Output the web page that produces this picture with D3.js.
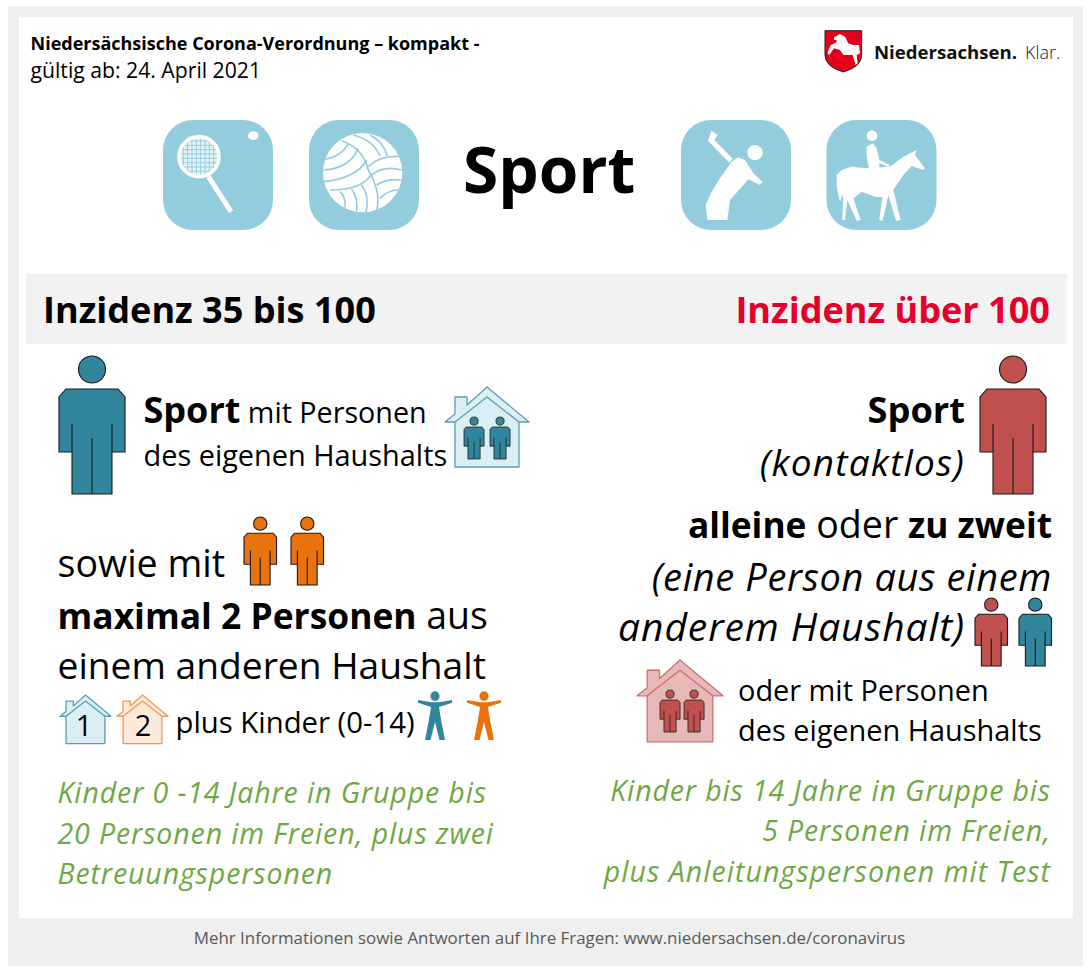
<!DOCTYPE html>
<html lang="de">
<head>
<meta charset="utf-8">
<script src="https://cdn.jsdelivr.net/npm/d3@7"></script>
<style>
  html, body { margin: 0; padding: 0; background: #fff; }
  svg { display: block; }
  text { font-family: "Open Sans", sans-serif; }
</style>
</head>
<body>
<div id="chart"></div>
<script>
// texts of the sheet, a run is [text, "b" | "i" | ""]
const headerLines = [[["Niedersächsische Corona-Verordnung – kompakt -", "b"]], [["gültig ab: 24. April 2021", ""]]];
const pageTitle = "Sport";
const incidenceLabels = ["Inzidenz 35 bis 100", "Inzidenz über 100"];
const leftHousehold = [[["Sport", "b"], [" mit Personen", ""]], [["des eigenen Haushalts", ""]]];
const leftContacts = [[["sowie mit", ""]], [["maximal 2 Personen", "b"], [" aus", ""]], [["einem anderen Haushalt", ""]]];
const leftKids = "plus Kinder (0-14)";
const leftGreen = ["Kinder 0 -14 Jahre in Gruppe bis", "20 Personen im Freien, plus zwei", "Betreuungspersonen"];
const rightSport = [[["Sport", "b"]], [["(kontaktlos)", "i"]]];
const rightContacts = [[["alleine", "b"], [" oder ", ""], ["zu zweit", "b"]], [["(eine Person aus einem", "i"]], [["anderem Haushalt)", "i"]]];
const rightHousehold = ["oder mit Personen", "des eigenen Haushalts"];
const rightGreen = ["Kinder bis 14 Jahre in Gruppe bis", "5 Personen im Freien,", "plus Anleitungspersonen mit Test"];
const footerText = "Mehr Informationen sowie Antworten auf Ihre Fragen: www.niedersachsen.de/coronavirus";
const houseNumbers = ["1", "2"];

const teal = "#31859c", red = "#c0504d", orange = "#e8730c", iconBlue = "#93cddd", green = "#6fa843";

const svg = d3.select("#chart").append("svg").attr("width", 1091).attr("height", 975);

svg.append("rect").attr("x", 8).attr("y", 6).attr("width", 1075).attr("height", 960).attr("fill", "#efefef");
svg.append("rect").attr("x", 19).attr("y", 17).attr("width", 1054).attr("height", 901).attr("fill", "#fff");
svg.append("rect").attr("x", 26).attr("y", 274).attr("width", 1041).attr("height", 70).attr("fill", "#f2f2f2");

// one line of mixed runs, sizes = {b: bold size, r: regular size, i: italic size}
function line(runs, x, y, sizes, anchor, fill, spacing) {
  const t = svg.append("text").attr("x", x).attr("y", y)
    .attr("text-anchor", anchor || "start").attr("fill", fill || "#000")
    .attr("letter-spacing", spacing || 0).style("white-space", "pre");
  runs.forEach(r => {
    const size = typeof sizes == "number" ? sizes : (sizes[r[1]] || sizes.r);
    t.append("tspan").text(r[0])
      .attr("font-weight", r[1] == "b" ? 700 : 400)
      .attr("font-style", r[1] == "i" ? "italic" : "normal")
      .attr("font-size", size);
  });
  return t;
}

// person figure, drawn in a 66 x 138 box
function person(x, y, h, color) {
  const s = h / 138;
  const g = svg.append("g").attr("transform", `translate(${x},${y}) scale(${s})`)
    .attr("stroke", "#1a1a1a").attr("stroke-width", 1.1 / Math.max(s, 0.45)).attr("fill", color);
  g.append("circle").attr("cx", 33).attr("cy", 13.5).attr("r", 13.5);
  g.append("path").attr("d", "M7,33 H59 L66,41 V96 H53 V138 H13 V96 H0 V41 Z");
  g.append("path").attr("fill", "none").attr("d", "M13,68 V96 M53,68 V96 M33,82 V138");
}

// house, drawn in a 84 x 80 box
function house(x, y, w, fill, stroke) {
  const g = svg.append("g").attr("transform", `translate(${x},${y}) scale(${w / 84})`)
    .attr("stroke", stroke).attr("stroke-width", 1.3 * 84 / w).attr("fill", fill).attr("stroke-linejoin", "round");
  g.append("path").attr("d", "M42,0 L84,35 H74 V80 H10 V35 H0 L10,27 V10 H22 V18 Z");
  g.append("path").attr("fill", "none").attr("d", "M10,35 L42,10 L74,35");
}

// child with spread arms, drawn in a 34 x 46 box
function child(x, y, color) {
  const g = svg.append("g").attr("transform", `translate(${x},${y}) scale(1,1.065)`).attr("fill", color);
  g.append("circle").attr("cx", 17).attr("cy", 4.8).attr("r", 4.6);
  g.append("path").attr("d", "M0,8.5 L13,10.5 H21 L34,8.5 V11 L21,15 L23,27 L27,46 H21.5 L17,29 L12.5,46 H7 L11,27 L13,15 L0,11 Z");
}

// header
line(headerLines[0], 30.5, 50, 18);
line(headerLines[1], 30.5, 78, 21.2);

// logo
const logo = svg.append("g").attr("transform", "translate(810,20) scale(0.3333)");
logo.append("path").attr("fill", "#e2001a").attr("stroke", "#222").attr("stroke-width", 3)
  .attr("d", "M45,32 H155 V105 Q155,140 100,156 Q45,140 45,105 Z");
logo.append("path").attr("fill", "#fff")
  .attr("d", "M72,52 L90,42 L105,50 L115,70 L130,75 L147,75 L150,100 L140,105 L143,130 L137,135 L128,105 L100,105 L90,90 L72,85 L58,105 L52,100 L62,75 L78,68 L80,60 L72,60 Z");
svg.append("text").attr("x", 874).attr("y", 59).attr("font-size", 18.6).attr("fill", "#111").attr("font-weight", 700).text("Niedersachsen.");
svg.append("text").attr("x", 1025).attr("y", 59).attr("font-size", 18).attr("fill", "#222").attr("font-weight", 300).text("Klar.");

// sport icons
[163, 309, 681, 826.5].forEach(x => {
  svg.append("rect").attr("x", x).attr("y", 120).attr("width", 110).attr("height", 110).attr("rx", 30).attr("fill", iconBlue);
});

// racket, coordinates of all icons are on a 3x grid
const racket = svg.append("g").attr("transform", "translate(150,110) scale(0.3333)");
racket.append("clipPath").attr("id", "racketHead").append("circle").attr("cx", 147).attr("cy", 140).attr("r", 60);
racket.append("circle").attr("cx", 147).attr("cy", 140).attr("r", 60).attr("fill", "#e6f4f7");
const meshLines = racket.append("g").attr("clip-path", "url(#racketHead)").attr("stroke", iconBlue).attr("stroke-width", 3);
d3.range(87, 210, 13).forEach(v => {
  meshLines.append("line").attr("x1", v).attr("x2", v).attr("y1", 80).attr("y2", 200);
  meshLines.append("line").attr("y1", v - 7).attr("y2", v - 7).attr("x1", 87).attr("x2", 207);
});
racket.append("circle").attr("cx", 147).attr("cy", 140).attr("r", 60).attr("fill", "none").attr("stroke", "#fff").attr("stroke-width", 11);
racket.append("line").attr("x1", 175).attr("y1", 200).attr("x2", 243).attr("y2", 305).attr("stroke", "#fff").attr("stroke-width", 15);
racket.append("ellipse").attr("cx", 310).attr("cy", 77).attr("rx", 16).attr("ry", 13).attr("fill", "#fff");

// volleyball
const ball = svg.append("g").attr("transform", "translate(150,110) scale(0.3333)");
ball.append("clipPath").attr("id", "ballClip").append("circle").attr("cx", 638).attr("cy", 188).attr("r", 119);
ball.append("circle").attr("cx", 638).attr("cy", 188).attr("r", 119).attr("fill", "#fff");
const seams = ["M575,92 Q640,115 655,180", "M655,170 Q690,135 755,140", "M522,148 Q575,140 595,100", "M520,180 Q600,175 625,115",
  "M520,215 Q620,205 650,150", "M540,240 Q640,240 665,190", "M610,75 Q670,90 690,138", "M660,75 Q700,95 712,138",
  "M665,195 Q700,165 755,180", "M680,225 Q710,205 755,210", "M690,265 Q715,240 745,240", "M570,245 Q590,265 585,295",
  "M605,238 Q625,265 620,305", "M635,225 Q660,260 648,307", "M655,180 Q695,250 680,300"];
ball.append("g").attr("clip-path", "url(#ballClip)").selectAll("path").data(seams).join("path")
  .attr("d", d => d).attr("fill", "none").attr("stroke", iconBlue).attr("stroke-width", 5);

// golfer
const golfer = svg.append("g").attr("transform", "translate(670,110) scale(0.3333)").attr("fill", "#fff");
golfer.append("circle").attr("cx", 255).attr("cy", 128).attr("r", 23);
golfer.append("path").attr("d", "M185,155 L205,142 L225,150 L250,190 L278,215 L270,225 L235,208 L180,270 L172,330 L112,330 L107,285 L125,245 L150,205 Z");
golfer.append("path").attr("d", "M178,158 L114,92 L124,62 L143,75 L133,90 L188,146 Z");

// rider
const rider = svg.append("g").attr("transform", "translate(670,110) scale(0.3333)").attr("fill", "#fff");
rider.append("circle").attr("cx", 606).attr("cy", 77).attr("r", 16);
rider.append("path").attr("d", "M590,110 L608,100 L620,115 L628,150 L660,165 L655,170 L628,160 L628,178 L598,178 L590,140 Z");
rider.append("path").attr("d", "M500,195 L515,180 L545,170 L590,175 L660,170 L700,140 L740,120 L735,135 L765,175 L760,180 L725,168 L700,195 L670,240 L692,330 L678,332 L655,255 L638,332 L628,330 L637,262 L615,260 L575,245 L550,265 L572,330 L560,332 L532,270 L525,330 L517,330 L520,250 L510,275 L500,230 Z");

// title and incidence band
svg.append("text").attr("x", 463).attr("y", 193).attr("font-size", 64).attr("font-weight", 700).text(pageTitle);
line([[incidenceLabels[0], "b"]], 43, 323, 36.1);
line([[incidenceLabels[1], "b"]], 1050, 323, 36.1, "end", "#e4002b");

// left column
person(59, 356, 138, teal);
line(leftHousehold[0], 143.5, 423, {b: 36, r: 28.7});
line(leftHousehold[1], 143.5, 466, 28.9);
house(445, 387, 84, "#daeef3", "#5a9fb3");
person(464, 417, 42, teal);
person(490, 417, 42, teal);

line(leftContacts[0], 57.5, 577, 37.6);
line(leftContacts[1], 57.5, 629, {b: 35.4, r: 37.4});
line(leftContacts[2], 57.5, 679, 37.2);
person(244, 517, 68, orange);
person(291, 517, 68, orange);

house(60, 695, 51, "#daeef3", "#5a9fb3");
house(117, 695, 51, "#fdeada", "#ee9a55");
houseNumbers.forEach((n, i) => {
  svg.append("text").attr("x", [84, 143][i]).attr("y", 736).attr("text-anchor", "middle").attr("font-size", 29).text(n);
});
line([[leftKids, ""]], 175.5, 733, 29.3);
child(418, 691, teal);
child(467, 691, orange);

leftGreen.forEach((t, i) => line([[t, "i"]], 57.5, [803, 844, 884][i], 28.5, "start", green, 0.88));

// right column
person(980, 356, 138, red);
line(rightSport[0], 965, 423, 36.2, "end");
line(rightSport[1], 965, 476, 37, "end", "#000", 1.2);
line(rightContacts[0], 1052, 538, {b: 35.3, r: 37.6}, "end");
line(rightContacts[1], 1052, 591, 38, "end", "#000", 0.6);
line(rightContacts[2], 965, 641, 39, "end", "#000", 0.9);
person(975, 598, 68, red);
person(1019, 598, 68, teal);

house(637, 660, 86, "#e6b8b7", "#cf6f6c");
person(660, 690, 42, red);
person(684, 690, 42, red);
rightHousehold.forEach((t, i) => line([[t, ""]], 738, [701, 741][i], 28.9));

rightGreen.forEach((t, i) => line([[t, "i"]], 1051, [801, 841, 882][i], 28.5, "end", green, i == 2 ? 1.05 : 0.85));

// footer
svg.append("text").attr("x", 549.5).attr("y", 944).attr("text-anchor", "middle").attr("font-size", 16.9).attr("fill", "#595959").text(footerText);
</script>
</body>
</html>
